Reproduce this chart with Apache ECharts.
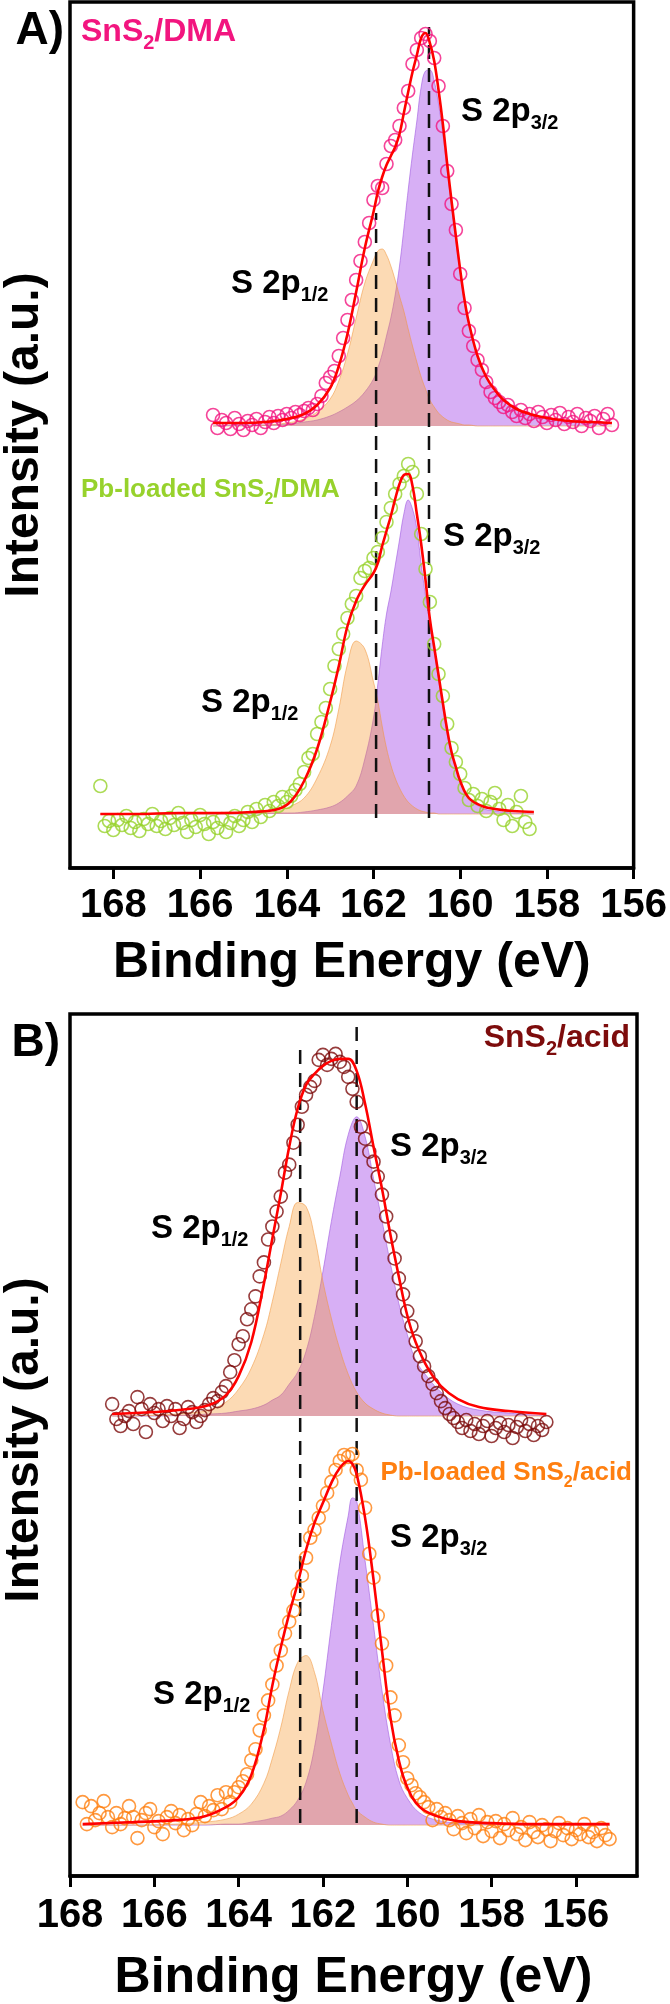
<!DOCTYPE html>
<html>
<head>
<meta charset="utf-8">
<title>S 2p XPS</title>
<script src="https://cdn.jsdelivr.net/npm/echarts@6/dist/echarts.min.js"></script>
<style>
html,body{margin:0;padding:0;background:#fff;}
#main{width:670px;height:2004px;}
</style>
</head>
<body>
<div id="main"></div>
<script>
var FONT = '"Liberation Sans", Arial, sans-serif';

// tick labels of both energy axes
var ticks = [168, 166, 164, 162, 160, 158, 156];

// ---- A) SnS2/DMA : fit, S 2p3/2, S 2p1/2
var aTopE = [165.7, 165.0, 164.5, 164.0, 163.6, 163.3, 163.0, 162.8, 162.6, 162.4, 162.2, 162.0, 161.9, 161.8, 161.7, 161.6, 161.5, 161.4, 161.3, 161.2, 161.1, 161.0, 160.9, 160.8, 160.7, 160.6, 160.5, 160.4, 160.3, 160.2, 160.1, 160.0, 159.9, 159.8, 159.6, 159.4, 159.2, 159.0, 158.7, 158.4, 158.0, 157.5, 157.0, 156.5];
var aTopFit = [3, 3, 4, 7, 12, 21, 38, 60, 92, 134, 178, 214, 234, 249, 261, 270, 279, 292, 313, 334, 354, 371, 388, 393, 383, 365, 336, 302, 262, 225, 190, 156, 126, 103, 70, 49, 36, 26, 17, 12, 8, 5, 4, 3];
var aTop32 = [0, 1, 1, 2, 4, 6, 10, 14, 19, 25, 34, 47, 58, 72, 90, 108, 131, 160, 197, 236, 272, 305, 339, 355, 356, 345, 322, 292, 256, 220, 186, 153, 124, 101, 69, 48, 35, 25, 16, 11, 7, 4, 3, 2];
var aTop12 = [0, 0, 1, 3, 7, 14, 27, 45, 72, 108, 143, 166, 175, 177, 171, 160, 146, 130, 115, 97, 80, 64, 49, 37, 26, 19, 13, 9, 6, 4, 3, 2, 1, 1, 0, 0, 0, 0, 0, 0, 0, 0, 0, 0];
// measured points, 0.1 eV apart starting at aTopStart
var aTopStart = 165.7;
var aTopPts = [11, -2, 6, 3, -3, 8, 2, -4,
  5, 1, 7, -2, 4, 9, 3, 10, 6, 12,
  8, 14, 11, 15, 18, 16, 22, 30, 43, 49,
  55, 70, 88, 106, 126, 146, 165, 184, 203, 226,
  240, 238, 262, 280, 286, 300, 318, 335, 362, 376,
  388, 392, 385, 368, 340, 300, 255, 222, 196, 152,
  118, 95, 80, 66, 56, 44, 34, 28, 24, 19,
  21, 14, 10, 16, 8, 12, 5, 14, 9, 3,
  11, 6, 13, 2, 9, 4, 12, 0, 8, 5,
  10, -2, 7, 12, 1];

// ---- A) Pb-loaded SnS2/DMA
var aBotE = [168.3, 167.5, 166.5, 165.5, 164.8, 164.2, 163.9, 163.6, 163.3, 163.0, 162.8, 162.6, 162.4, 162.2, 162.0, 161.9, 161.8, 161.7, 161.6, 161.5, 161.4, 161.3, 161.2, 161.1, 161.0, 160.9, 160.8, 160.7, 160.6, 160.5, 160.4, 160.3, 160.2, 160.1, 160.0, 159.8, 159.5, 159.2, 158.8, 158.3];
var aBotFit = [0, 0, 1, 1, 2, 5, 13, 33, 65, 112, 148, 188, 213, 229, 241, 251, 268, 283, 298, 315, 330, 339, 340, 328, 300, 270, 234, 195, 167, 139, 111, 84, 62, 47, 33, 16, 8, 5, 3, 2];
var aBot32 = [0, 0, 0, 0, 0, 1, 1, 2, 4, 7, 11, 18, 28, 55, 96, 130, 168, 200, 222, 248, 274, 300, 314, 305, 285, 250, 218, 190, 163, 135, 107, 80, 60, 45, 32, 16, 6, 3, 1, 0];
var aBot12 = [0, 0, 0, 0, 1, 3, 8, 16, 36, 68, 105, 150, 173, 165, 132, 113, 88, 66, 49, 36, 26, 18, 12, 8, 5, 3, 2, 1, 1, 0, 0, 0, 0, 0, 0, 0, 0, 0, 0, 0];
var aBotStart = 168.3;
var aBotPts = [28, -12, -7, -16, -6, -11, -2, -14, -8, -17,
  -5, -10, 0, -12, -7, -15, -4, -11, 1, -9,
  -18, -6, -13, -1, -10, -20, -8, -14, -5, -18,
  -9, -2, -12, -6, 2, -8, 5, -3, 9, 3,
  12, 8, 17, 12, 18, 24, 30, 42, 56, 60,
  80, 92, 106, 125, 148, 165, 180, 196, 210, 218,
  236, 243, 246, 256, 262, 276, 292, 306, 320, 330,
  338, 350, 342, 320, 280, 245, 212, 170, 140, 118,
  90, 66, 52, 40, 26, 14, 20, 8, 15, 3,
  12, 21, 5, -6, 9, -12, 2, 18, -8, -15];

// ---- B) SnS2/acid
var bTopE = [167.0, 166.0, 165.2, 164.7, 164.3, 164.0, 163.7, 163.4, 163.2, 163.0, 162.8, 162.6, 162.4, 162.2, 162.0, 161.8, 161.6, 161.4, 161.2, 161.0, 160.8, 160.6, 160.4, 160.2, 160.0, 159.8, 159.5, 159.2, 158.8, 158.3, 157.6, 156.7];
var bTopFit = [2, 4, 7, 11, 21, 40, 74, 133, 178, 223, 270, 308, 332, 343, 351, 356, 358, 358, 346, 313, 270, 228, 182, 140, 101, 74, 47, 30, 17, 9, 5, 2];
var bTop32 = [0, 0, 1, 2, 3, 5, 7, 11, 16, 21, 32, 44, 65, 100, 145, 195, 240, 282, 300, 280, 238, 196, 153, 113, 82, 56, 38, 24, 12, 6, 3, 0];
var bTop12 = [0, 1, 3, 6, 14, 27, 48, 82, 115, 153, 190, 214, 210, 180, 135, 98, 67, 42, 24, 13, 7, 3, 1, 0, 0, 0, 0, 0, 0, 0, 0, 0];
var bTopStart = 167.0;
var bTopPts = [12, -3, -10, 0, 5, -8, 19, 7, -16, 12,
  3, 7, -5, 10, 0, 7, -12, -3, 9, 4,
  -6, 0, 6, 12, 18, 15, 24, 30, 44, 56,
  72, 80, 97, 107, 120, 140, 154, 177, 190, 205,
  220, 244, 252, 274, 292, 310, 322, 330, 336, 357,
  362, 352, 358, 363, 355, 350, 340, 328, 315, 290,
  278, 265, 255, 240, 222, 200, 180, 158, 138, 122,
  105, 90, 75, 60, 50, 40, 32, 23, 15, 8,
  2, -2, -6, -12, -4, -15, -8, -18, -10, -5,
  -20, -12, -7, -16, -9, -22, -11, -4, -15, -8,
  -19, -10, -14, -6];

// ---- B) Pb-loaded SnS2/acid
var bBotE = [167.7, 166.5, 165.5, 164.8, 164.3, 164.0, 163.7, 163.4, 163.2, 163.0, 162.8, 162.6, 162.4, 162.2, 162.0, 161.8, 161.6, 161.4, 161.3, 161.2, 161.0, 160.8, 160.6, 160.4, 160.2, 160.0, 159.7, 159.3, 158.8, 158.0, 157.0, 156.0, 155.2];
var bBotFit = [1, 3, 5, 9, 18, 28, 50, 96, 140, 178, 212, 242, 276, 303, 323, 343, 358, 365, 362, 352, 308, 246, 175, 108, 65, 38, 18, 9, 4, 2, 1, 1, 1];
var bBot32 = [0, 0, 0, 0, 1, 1, 3, 5, 7, 9, 15, 25, 43, 78, 134, 200, 263, 310, 328, 325, 265, 200, 135, 82, 45, 27, 12, 5, 2, 1, 0, 0, 0];
var bBot12 = [0, 0, 1, 3, 6, 11, 21, 42, 67, 98, 135, 163, 170, 153, 115, 82, 52, 30, 22, 15, 8, 3, 1, 0, 0, 0, 0, 0, 0, 0, 0, 0, 0];
var bBotStart = 167.7;
var bBotPts = [23, 1, 19, 5, 12, 24, 8, -2, 12, 1,
  7, 19, 8, -13, 5, 12, 16, -2, 4, -9,
  8, 14, 2, 10, -5, 6, 0, 11, 23, 9,
  19, 15, 30, 16, 33, 23, 33, 38, 44, 51,
  65, 76, 95, 110, 125, 141, 160, 175, 192, 204,
  215, 232, 250, 268, 288, 296, 308, 320, 333, 344,
  356, 365, 371, 369, 372, 356, 346, 318, 272, 248,
  210, 182, 160, 128, 110, 80, 63, 47, 40, 32,
  28, 23, 18, 5, 16, 8, 12, 5, -4, 9,
  2, -8, 6, -3, 10, -11, 3, -6, 4, -13,
  1, -5, 7, -9, -2, -15, 3, -7, -12, 0,
  -4, -16, -6, 2, -10, -3, -14, -5, -9, 1,
  -12, -7, -16, -3, -10, -14];

// peak reference lines (energy, upper end) per panel
var aDashE = [161.94, 160.72];
var aDashTop = [655, 841];
var bDashE = [162.54, 161.2];
var bDashTop = [835, 856];

// colours
var cPink = '#f2157f', cGreen = '#97d22c', cWine = '#7d0c0c', cOrange = '#ff7f10';

// vertical offsets of the stacked spectra (panel units)
var offA = [442, 54];
var offB = [461, 51];

function pairs(es, vals, off){
    return es.map(function(e, i){ return [e, vals[i] + off]; });
}
function steps(start, vals, off){
    return vals.map(function(v, i){ return [+(start - i * 0.1).toFixed(2), v + off]; });
}

//一组谱图：两个分峰面积 + 数据点 + 拟合线
function spectrum(g, es, fit, p32, p12, start, pts, off, col){
    return [{
        type: 'line', xAxisIndex: g, yAxisIndex: g, data: pairs(es, p32, off),
        smooth: 0.4, symbol: 'none', silent: true, z: 1,
        lineStyle: {width: 1, color: 'rgba(160,90,225,0.6)'},
        areaStyle: {origin: off, color: 'rgba(175,95,235,0.5)', opacity: 1}
    }, {
        type: 'line', xAxisIndex: g, yAxisIndex: g, data: pairs(es, p12, off),
        smooth: 0.4, symbol: 'none', silent: true, z: 2,
        lineStyle: {width: 1, color: 'rgba(240,150,60,0.55)'},
        areaStyle: {origin: off, color: 'rgba(246,146,34,0.34)', opacity: 1}
    }, {
        type: 'scatter', xAxisIndex: g, yAxisIndex: g, data: steps(start, pts, off),
        symbol: 'circle', symbolSize: 13, clip: false, z: 4,
        itemStyle: {color: 'rgba(255,255,255,0)', borderColor: col, borderWidth: 1.6}
    }, {
        type: 'line', xAxisIndex: g, yAxisIndex: g, data: pairs(es, fit, off),
        smooth: 0.4, symbol: 'none', silent: true, z: 5,
        lineStyle: {width: 2.6, color: '#ff0000'}
    }];
}

function dashes(g, es, tops, bottom){
    return es.map(function(e, i){
        return {
            type: 'line', xAxisIndex: g, yAxisIndex: g, data: [[e, bottom], [e, tops[i]]],
            symbol: 'none', silent: true, z: 3,
            lineStyle: {color: '#111', width: 2.5, type: [14, 9]}
        };
    });
}

function xAxisOf(g, min, max, margin, gap){
    return {
        gridIndex: g, type: 'value', inverse: true, min: min, max: max,
        axisLine: {show: true, onZero: false, lineStyle: {color: '#000', width: 3.5}},
        axisTick: {show: true, inside: false, length: 11, customValues: ticks, lineStyle: {color: '#000', width: 3}},
        axisLabel: {customValues: ticks, fontSize: 40, fontWeight: 'bold', color: '#000', margin: margin, fontFamily: FONT},
        splitLine: {show: false},
        name: 'Binding Energy (eV)', nameLocation: 'middle', nameGap: gap,
        nameTextStyle: {fontSize: 50, fontWeight: 'bold', color: '#000', fontFamily: FONT}
    };
}

//文字标签, y 为基线
function tag(x, base, txt, size, color, align){
    var lh = Math.round(size * 1.35);
    return {
        type: 'text', x: x, y: base - (lh / 2 + 0.35 * size), z: 100,
        style: {
            text: txt, align: align || 'left', verticalAlign: 'top',
            rich: {
                m: {fontSize: size, fontWeight: 'bold', fontFamily: FONT, fill: color, lineHeight: lh},
                s: {fontSize: Math.round(size * 0.62), fontWeight: 'bold', fontFamily: FONT, fill: color, verticalAlign: 'bottom'}
            }
        }
    };
}
function plain(x, y, txt, size, align, rot){
    return {
        type: 'text', x: x, y: y, rotation: rot || 0, z: 100,
        style: {text: txt, align: align, verticalAlign: 'middle', fontSize: size, fontWeight: 'bold', fontFamily: FONT, fill: '#000'}
    };
}

var series = [].concat(
    spectrum(0, aTopE, aTopFit, aTop32, aTop12, aTopStart, aTopPts, offA[0], cPink),
    spectrum(0, aBotE, aBotFit, aBot32, aBot12, aBotStart, aBotPts, offA[1], cGreen),
    dashes(0, aDashE, aDashTop, 50),
    spectrum(1, bTopE, bTopFit, bTop32, bTop12, bTopStart, bTopPts, offB[0], cWine),
    spectrum(1, bBotE, bBotFit, bBot32, bBot12, bBotStart, bBotPts, offB[1], cOrange),
    dashes(1, bDashE, bDashTop, 53)
);

var option = {
    animation: false,
    backgroundColor: '#fff',
    grid: [
        {left: 70, right: 33, top: 2, height: 866, show: true, borderColor: '#000', borderWidth: 3.5},
        {left: 70, right: 33, top: 1014, height: 864, show: true, borderColor: '#000', borderWidth: 3.5}
    ],
    xAxis: [xAxisOf(0, 156, 169, 18, 70), xAxisOf(1, 154.55, 168, 20, 77)],
    yAxis: [
        {gridIndex: 0, type: 'value', min: 0, max: 866, show: false},
        {gridIndex: 1, type: 'value', min: 0, max: 864, show: false}
    ],
    series: series,
    graphic: [
        plain(64, 31, 'A)', 46, 'right'),
        plain(60, 1043, 'B)', 46, 'right'),
        plain(25, 435, 'Intensity (a.u.)', 48, 'center', Math.PI / 2),
        plain(25, 1440, 'Intensity (a.u.)', 48, 'center', Math.PI / 2),
        tag(81, 43, '{m|SnS}{s|2}{m|/DMA}', 32, cPink),
        tag(461, 123, '{m|S 2p}{s|3/2}', 33, '#000'),
        tag(231, 295, '{m|S 2p}{s|1/2}', 33, '#000'),
        tag(81, 499, '{m|Pb-loaded SnS}{s|2}{m|/DMA}', 26, cGreen),
        tag(443, 548, '{m|S 2p}{s|3/2}', 33, '#000'),
        tag(201, 714, '{m|S 2p}{s|1/2}', 33, '#000'),
        tag(630, 1049, '{m|SnS}{s|2}{m|/acid}', 32, cWine, 'right'),
        tag(390, 1158, '{m|S 2p}{s|3/2}', 33, '#000'),
        tag(151, 1240, '{m|S 2p}{s|1/2}', 33, '#000'),
        tag(632, 1482, '{m|Pb-loaded SnS}{s|2}{m|/acid}', 26, cOrange, 'right'),
        tag(390, 1549, '{m|S 2p}{s|3/2}', 33, '#000'),
        tag(153, 1706, '{m|S 2p}{s|1/2}', 33, '#000')
    ]
};

var myChart = echarts.init(document.getElementById('main'));
myChart.setOption(option);
</script>
</body>
</html>
